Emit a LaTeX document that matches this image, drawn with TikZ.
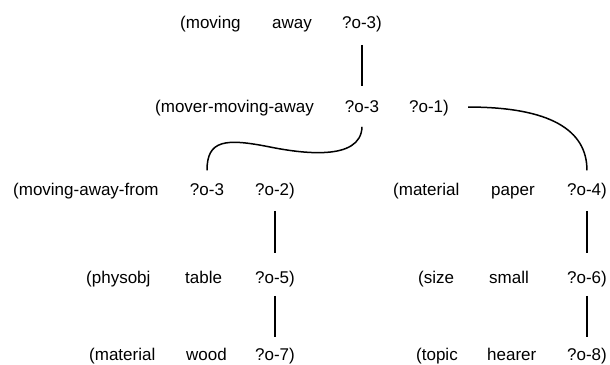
\documentclass[tikz,border=0pt]{standalone}
\usepackage{fontspec}
\setmainfont{Liberation Sans}
\usetikzlibrary{calc}
\begin{document}
\begin{tikzpicture}[x=1pt,y=-1pt,
  w/.style={inner sep=0pt, text height=12.5pt, text depth=3.6pt, font=\fontsize{17}{20}\selectfont},
  lnk/.style={line width=1.5pt, black}]
\useasboundingbox (0,0) rectangle (610,364);
% row 1
\node[w,anchor=base west] (a1) at (180,28) {(moving};
\node[w,anchor=base west] (a2) at (272,28) {away};
\node[w,anchor=base] (a3) at (362,28) {?o-3)};
% row 2
\node[w,anchor=base west] (b1) at (155,112) {(mover-moving-away};
\node[w,anchor=base] (b2) at (362,112) {?o-3};
\node[w,anchor=base east] (b3) at (449,112) {?o-1)};
% row 3
\node[w,anchor=base west] (c1) at (13,195) {(moving-away-from};
\node[w,anchor=base] (c2) at (207,195) {?o-3};
\node[w,anchor=base east] (c3) at (295,195) {?o-2)};
\node[w,anchor=base west] (d1) at (393,195) {(material};
\node[w,anchor=base west] (d2) at (491,195) {paper};
\node[w,anchor=base east] (d3) at (607,195) {?o-4)};
% row 4
\node[w,anchor=base west] (e1) at (86,283) {(physobj};
\node[w,anchor=base west] (e2) at (185,283) {table};
\node[w,anchor=base east] (e3) at (295,283) {?o-5)};
\node[w,anchor=base west] (f1) at (418,283) {(size};
\node[w,anchor=base west] (f2) at (489,283) {small};
\node[w,anchor=base east] (f3) at (607,283) {?o-6)};
% row 5
\node[w,anchor=base west] (g1) at (89,360) {(material};
\node[w,anchor=base west] (g2) at (186,360) {wood};
\node[w,anchor=base east] (g3) at (295,360) {?o-7)};
\node[w,anchor=base west] (h1) at (416,360) {(topic};
\node[w,anchor=base west] (h2) at (487,360) {hearer};
\node[w,anchor=base east] (h3) at (607,360) {?o-8)};
% connectors
\draw[lnk, shorten <=13pt, shorten >=13pt] (a3.south) -- (b2.north);
\draw[lnk, shorten <=12pt, shorten >=17pt] (c3.south) -- (e3.north);
\draw[lnk, shorten <=9pt, shorten >=10pt] (e3.south) -- (g3.north);
\draw[lnk, shorten <=12pt, shorten >=17pt] (d3.south) -- (f3.north);
\draw[lnk, shorten <=9pt, shorten >=10pt] (f3.south) -- (h3.north);
\draw[lnk] ($(b2.south)+(0,11)$) .. controls (361,162) and (300,153) .. (270,147)
  .. controls (225,138) and (207,140) .. ($(c2.north)+(0,-12)$);
\draw[lnk] ($(b3.east)+(19,-0.5)$) .. controls (550,107) and (587,130) .. ($(d3.north)+(0,-12)$);
\end{tikzpicture}
\end{document}
